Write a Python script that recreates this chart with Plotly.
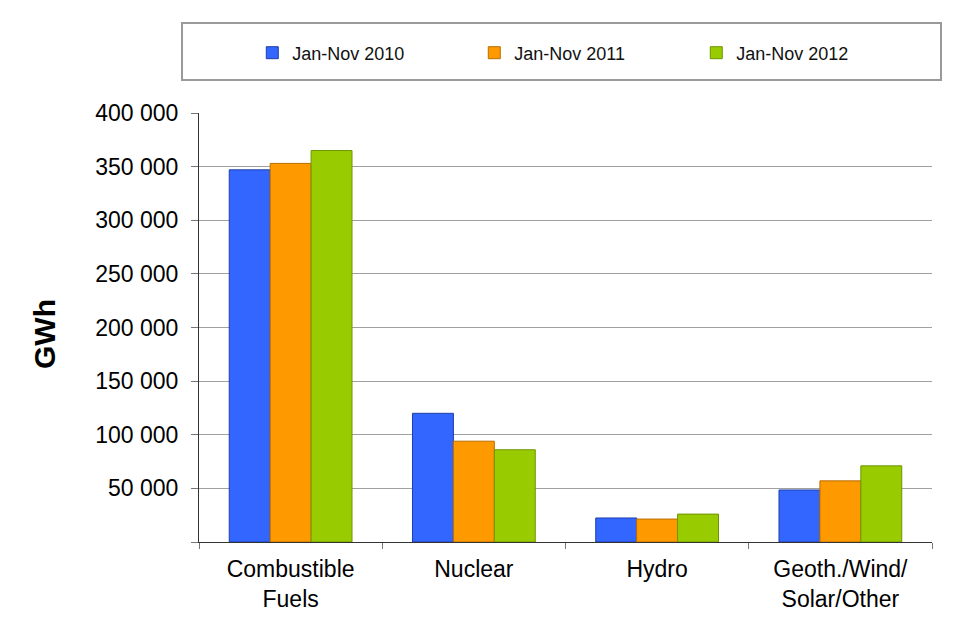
import plotly.graph_objects as go

categories = ["Combustible<br>Fuels", "Nuclear", "Hydro", "Geoth./Wind/<br>Solar/Other"]
series_names = ["Jan-Nov 2010", "Jan-Nov 2011", "Jan-Nov 2012"]
values_2010 = [347000, 120000, 22400, 48500]
values_2011 = [353000, 94000, 21400, 57000]
values_2012 = [365000, 86000, 26000, 71000]
tick_vals = [0, 50000, 100000, 150000, 200000, 250000, 300000, 350000, 400000]
tick_text = ["", "50 000", "100 000", "150 000", "200 000", "250 000", "300 000", "350 000", "400 000"]

fills = ["#3366FF", "#FF9900", "#99CC00"]
edges = ["#1F3FA8", "#B86E00", "#6E9400"]

fig = go.Figure()
for name, vals, fc, ec in zip(series_names, [values_2010, values_2011, values_2012], fills, edges):
    fig.add_trace(go.Bar(x=categories, y=vals, name=name,
                         marker=dict(color=fc, line=dict(color=ec, width=1))))

FONT = "Arial, Liberation Sans, sans-serif"
PW, PH = 733, 429  # plot area size in px
fig.update_layout(
    width=958, height=629,
    margin=dict(l=191, r=34, t=105, b=95),
    paper_bgcolor="white", plot_bgcolor="white",
    font=dict(family=FONT, color="black", size=23),
    barmode="group", bargap=0.33, bargroupgap=0,
    showlegend=True,
    legend=dict(orientation="h", x=0.527, xanchor="center", y=(542-53)/PH, yanchor="middle",
                font=dict(size=18, family=FONT, color="#111111"), entrywidth=177, entrywidthmode="pixels",
                itemwidth=30, bgcolor="rgba(0,0,0,0)"),
    shapes=[dict(type="rect", xref="paper", yref="paper",
                 x0=(182-199)/PW, x1=(941-199)/PW,
                 y0=(542-80)/PH, y1=(542-23)/PH,
                 line=dict(color="#9a9a9a", width=2), fillcolor="rgba(0,0,0,0)")],
    annotations=[dict(text="<b>GWh</b>", xref="paper", yref="paper",
                      x=(44-199)/PW, y=(542-334)/PH, textangle=-90, showarrow=False,
                      font=dict(size=30, family=FONT, color="black"),
                      xanchor="center", yanchor="middle")],
)
fig.update_xaxes(showline=True, linecolor="#333333", linewidth=1.2,
                 ticks="outside", tickson="boundaries", ticklen=6, tickcolor="#777777",
                 showgrid=False, tickfont=dict(size=23), ticklabelstandoff=6)
fig.update_yaxes(range=[0, 400000], tickvals=tick_vals, ticktext=tick_text,
                 showline=True, linecolor="#333333", linewidth=1.2,
                 ticks="outside", ticklen=7, tickcolor="#777777",
                 showgrid=True, gridcolor="#a0a0a0", gridwidth=1,
                 zeroline=False, tickfont=dict(size=23), ticklabelstandoff=8)

fig.write_html("out.html")
